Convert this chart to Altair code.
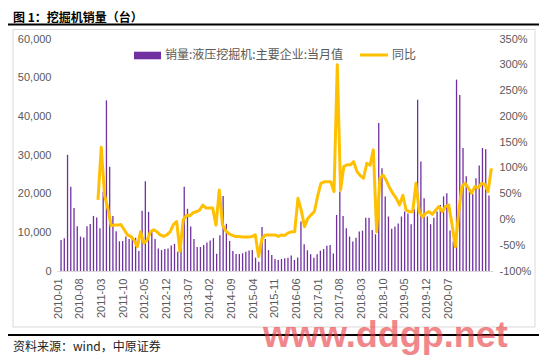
import altair as alt
import pandas as pd

# ---------------- data ----------------
months = [f"{y}-{m:02d}" for y in range(2010, 2021) for m in range(1, 13)] + ["2021-01"]

label_months = ["2010-01", "2010-08", "2011-03", "2011-10", "2012-05", "2012-12",
                "2013-07", "2014-02", "2014-09", "2015-04", "2015-11", "2016-06",
                "2017-01", "2017-08", "2018-03", "2018-10", "2019-05", "2019-12",
                "2020-07"]

sales = [
    8000, 8460, 30050, 21760, 16320, 11570, 8900, 8640, 11570, 12180, 14250, 13820,   # 2010
    11050, 20470, 44130, 26940, 14250, 10280, 7690, 7770, 8900, 8290, 9000, 8600,    # 2011
    5200, 15600, 23200, 15300, 10400, 8300, 5800, 5400, 5700, 5800, 6600, 7000,      # 2012
    5000, 5900, 21800, 16100, 11500, 8300, 6200, 6200, 6700, 7400, 7900, 8500,       # 2013
    4450, 9260, 19400, 12200, 7800, 5200, 4400, 4400, 4600, 5000, 5300, 5400,        # 2014
    3450, 2400, 11400, 8300, 5400, 4150, 3100, 2850, 3100, 3300, 3450, 4000,         # 2015
    2850, 3500, 12800, 6900, 5350, 4300, 3450, 4300, 5250, 5700, 6550, 6750,         # 2016
    4500, 14500, 20550, 14250, 11050, 8900, 7600, 8600, 10200, 10450, 13800, 13800,  # 2017
    10600, 9500, 38250, 26600, 19250, 14100, 10900, 11500, 12300, 14100, 15400, 14900,  # 2018
    12100, 16000, 44300, 28300, 18800, 14100, 12100, 13800, 15400, 17100, 19300, 20100,  # 2019
    10500, 7600, 49500, 45500, 31800, 24500, 21000, 20000, 24000, 27300, 31800, 31500,   # 2020
    19500,                                                                            # 2021
]

# YoY (%), starts 2011-01
yoy = [
    38, 140, 47, 22, -12, -11, -11, -10, -20, -30, -33, -40,      # 2011
    -53, -24, -46, -40, -24, -20, -24, -30, -33, -30, -24, -10,   # 2012
    -4, -62, -1, 8, 7, 13, 15, 18, 28, 22, 22, 22,               # 2013
    -11, 57, -11, -22, -28, -31, -33, -33, -34, -34, -34, -33,   # 2014
    -30, -72, -38, -30, -30, -30, -30, -33, -30, -31, -26, -24,  # 2015
    -24, 41, 18, -14, 2, 9, 15, 45, 70, 73, 73, 73,              # 2016
    54, 300, 57, 103, 106, 106, 112, 93, 85, 80, 109, 105,       # 2017
    135, -24, 80, 86, 75, 61, 50, 41, 28, 47, 18, 15,            # 2018
    15, 70, 15, 5, 12, 15, 10, 18, 25, 15, 25, 28,               # 2019
    -10, -53, 12, 64, 70, 61, 51, 64, 61, 70, 68, 54,            # 2020
    99,                                                          # 2021
]

left_ticks = [0, 10000, 20000, 30000, 40000, 50000, 60000]
right_ticks = [-100, -50, 0, 50, 100, 150, 200, 250, 300, 350]

series_bar = "销量:液压挖掘机:主要企业:当月值"
series_line = "同比"
title_text = "图 1：挖掘机销量（台）"
source_text = "资料来源：wind，中原证券"
watermark = "www.ddgp.net"

df = pd.DataFrame({
    "month": months,
    "sales": sales,
    "yoy": [None] * 12 + yoy,
})
lab_df = pd.DataFrame({"lab": label_months})
one = pd.DataFrame({"d": [0]})

FONT = "Liberation Sans"
CJK = "Noto Sans CJK SC"
GRAY = "#595959"
PURPLE = "#7030A0"
GOLD = "#FFC000"

W, H = 436, 232

xscale = alt.Scale(paddingInner=0, paddingOuter=0.75)

bars = alt.Chart(df).mark_bar(size=1.3, color=PURPLE).encode(
    x=alt.X("month:O", sort=None, title=None, scale=xscale,
            axis=alt.Axis(labels=False, ticks=False, domainColor="#d9d9d9",
                          grid=False)),
    y=alt.Y("sales:Q", title=None,
            scale=alt.Scale(domain=[0, 60000], nice=False, zero=True),
            axis=alt.Axis(orient="left", values=left_ticks, format=",.0f", grid=False,
                          domain=False, ticks=False, labelFontSize=11, labelFont=FONT,
                          labelColor=GRAY, labelPadding=6)),
)

line = alt.Chart(df).mark_line(color=GOLD, strokeWidth=3, strokeJoin="round").encode(
    x=alt.X("month:O", sort=None, title=None, scale=xscale, axis=None),
    y=alt.Y("yoy:Q", title=None,
            scale=alt.Scale(domain=[-100, 350], nice=False, zero=False),
            axis=alt.Axis(orient="right", values=right_ticks,
                          labelExpr="datum.value + '%'", grid=False, domain=False,
                          ticks=False, labelFontSize=11, labelFont=FONT,
                          labelColor=GRAY, labelPadding=6)),
)

# category labels as drawn in the reference (spaced slightly tighter than the bars)
labels = alt.Chart(lab_df).mark_point(opacity=0).encode(
    x=alt.X("lab:O", sort=None, title=None,
            scale=alt.Scale(type="point", range=[1, 391], padding=0),
            axis=alt.Axis(orient="bottom", labelAngle=-90, labelFontSize=11,
                          labelFont=FONT, labelColor=GRAY, ticks=False, domain=False,
                          labelPadding=7, labelOverlap=False, grid=False)),
)

def txt(text, x, y, size=12, color="black", weight="normal", font=CJK, align="left",
        baseline="middle", opacity=1.0):
    return alt.Chart(one).mark_text(
        text=text, fontSize=size, color=color, fontWeight=weight, font=font,
        align=align, baseline=baseline, opacity=opacity
    ).encode(x=alt.value(x), y=alt.value(y))

title = txt(title_text, -44, -21.5, size=12, weight="bold")
rule_top = alt.Chart(one).mark_rule(color="black", strokeWidth=2).encode(
    x=alt.value(-49), x2=alt.value(482), y=alt.value(-14.5))
box = alt.Chart(one).mark_rect(filled=False, stroke="#d9d9d9", strokeWidth=1).encode(
    x=alt.value(-44), x2=alt.value(478), y=alt.value(-9.5), y2=alt.value(288))
rule_bot = alt.Chart(one).mark_rule(color="black", strokeWidth=2).encode(
    x=alt.value(-49), x2=alt.value(482), y=alt.value(296))
source = txt(source_text, -44, 308, size=12, color="#222222")

leg_rect = alt.Chart(one).mark_rect(color=PURPLE).encode(
    x=alt.value(77), x2=alt.value(104), y=alt.value(12.7), y2=alt.value(20.3))
leg_text1 = txt(series_bar, 108, 16, size=12, color=GRAY)
leg_line = alt.Chart(one).mark_rule(color=GOLD, strokeWidth=3).encode(
    x=alt.value(303), x2=alt.value(331), y=alt.value(16))
leg_text2 = txt(series_line, 335, 16, size=12, color=GRAY)

wm = txt(watermark, 206, 308, size=36, color="#e8383d", weight="bold", font=FONT,
         baseline="alphabetic", opacity=0.6)

chart = alt.layer(
    box, bars, line, labels, title, rule_top, rule_bot, source,
    leg_rect, leg_text1, leg_line, leg_text2, wm
).resolve_scale(y="independent", x="independent").resolve_axis(
    x="independent", y="independent"
).properties(
    width=W, height=H,
    autosize=alt.AutoSizeParams(type="none"),
    padding={"left": 49, "top": 31, "right": 46, "bottom": 84},
    background="white",
).configure_view(strokeWidth=0)

chart.save("out.html", embed_options={"renderer": "svg", "actions": False})
